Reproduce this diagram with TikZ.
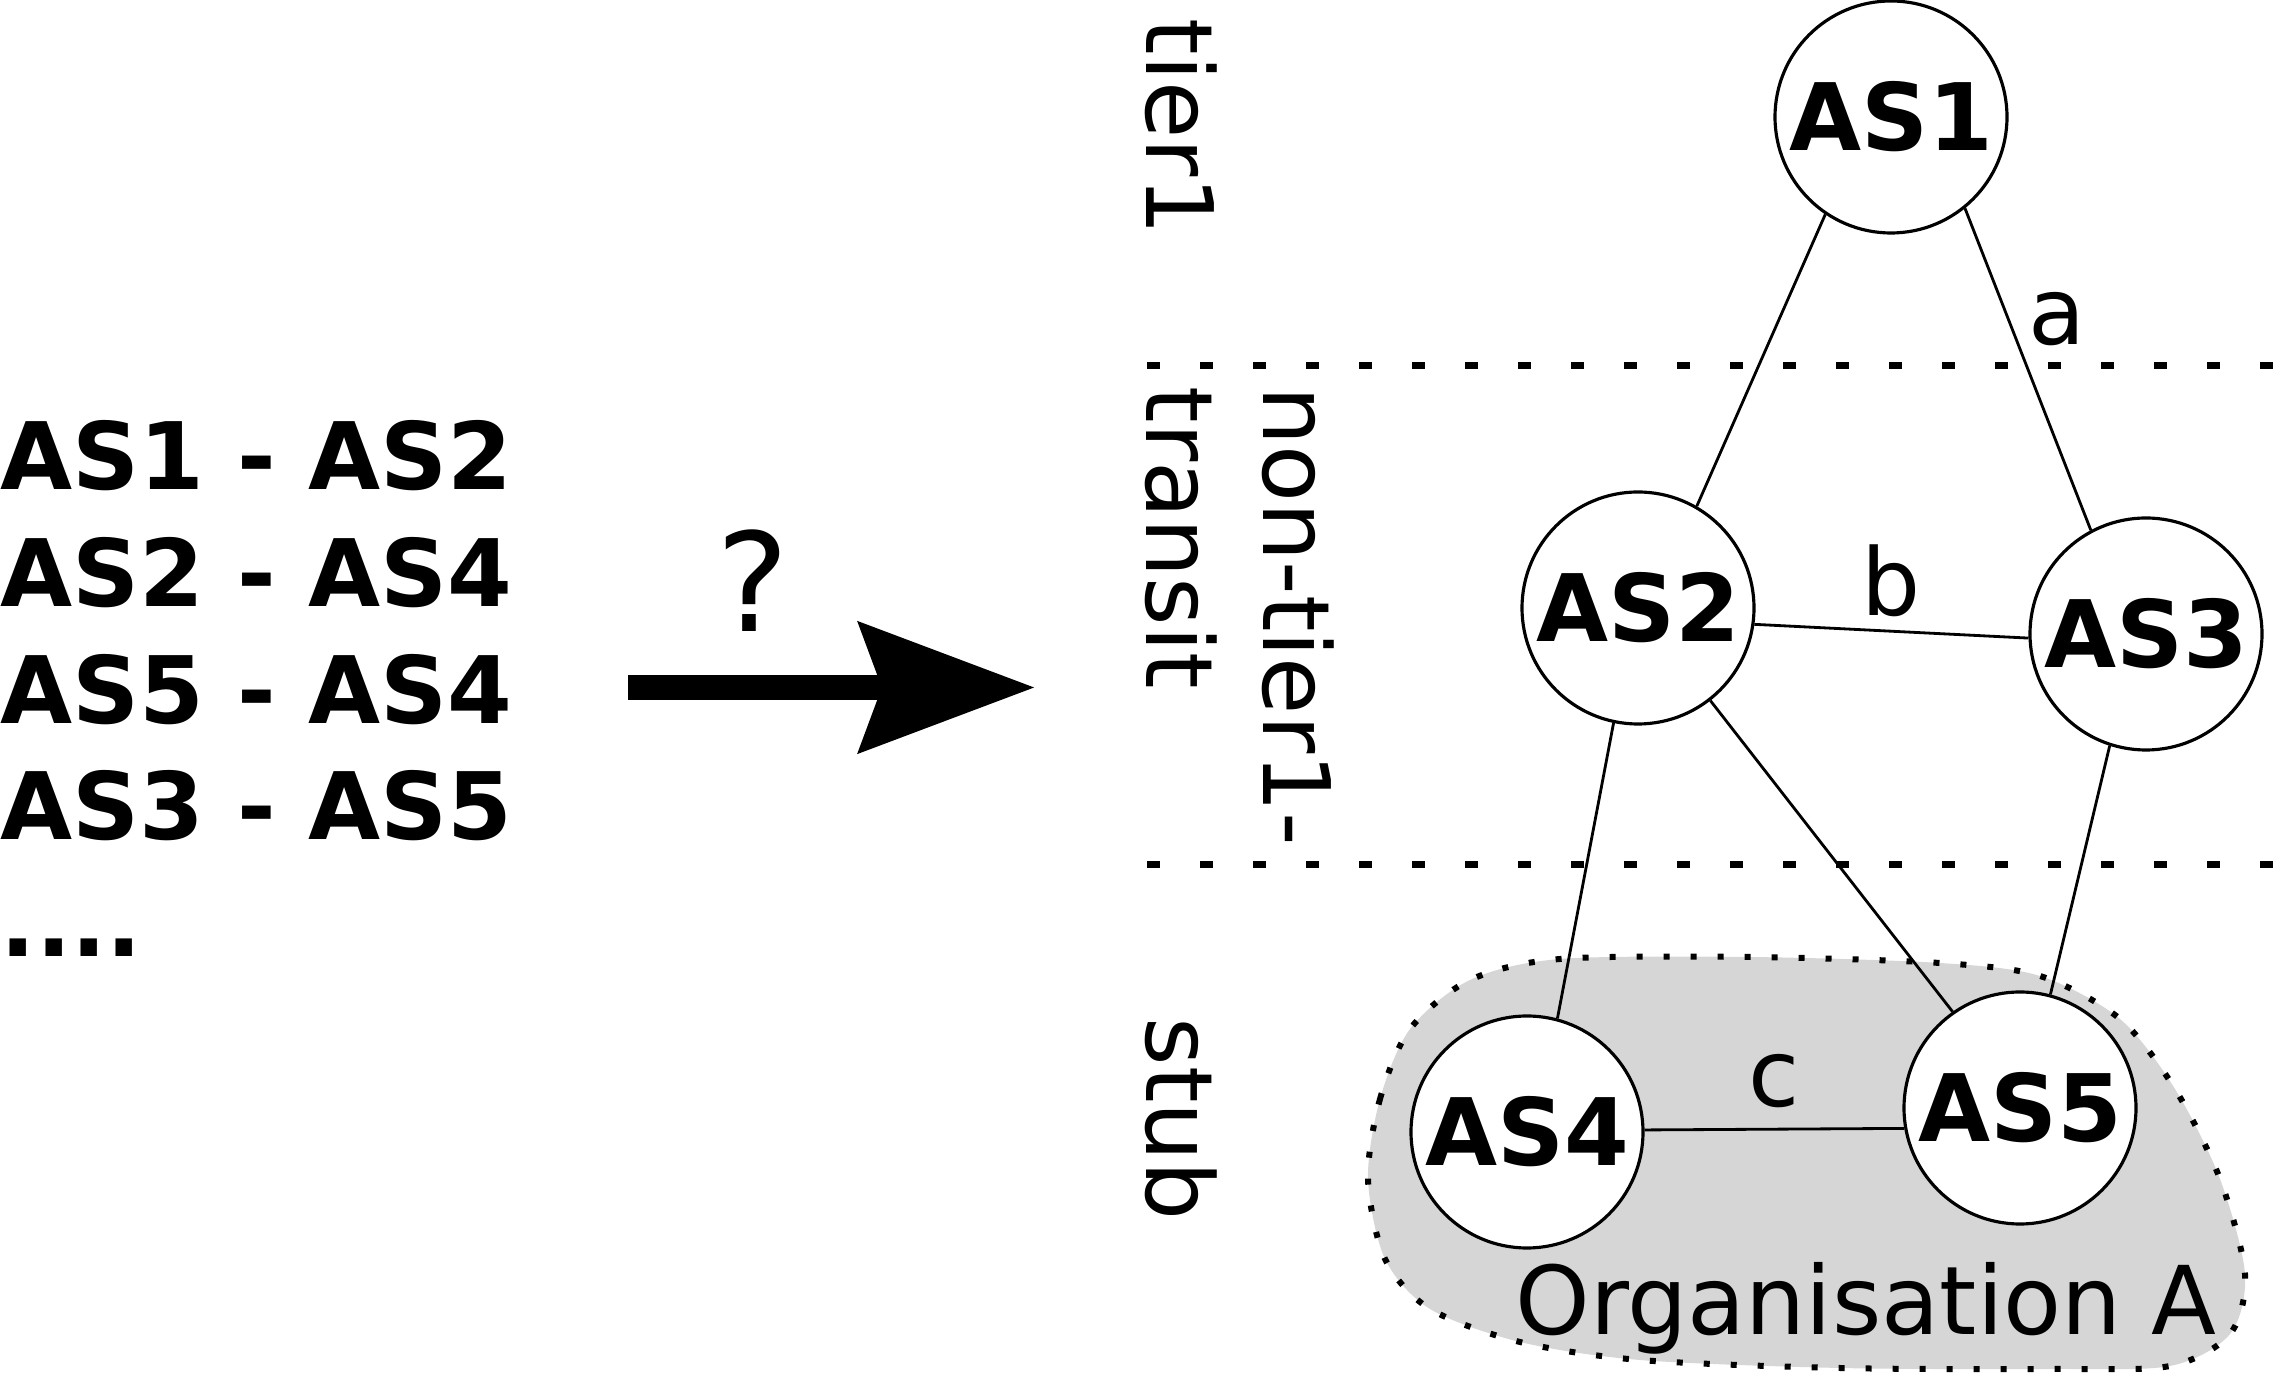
\documentclass[tikz,border=0pt]{standalone}
\usepackage{fontspec}
\setmainfont{DejaVu Sans}
\usetikzlibrary{arrows.meta,positioning}
\definecolor{orggray}{gray}{.84}
\newcommand{\asdiam}{2.32cm}
\newcommand{\bigtext}{\fontsize{26.5}{33.2}\selectfont}
\tikzset{
    asnode/.style={draw, circle, fill=white, line width=0.9pt, minimum size=\asdiam, inner sep=0pt, font=\bigtext\bfseries},
    aslink/.style={line width=0.8pt},
    linklabel/.style={inner sep=0pt, font=\bigtext},
    layerline/.style={line width=0.07cm, dash pattern=on 0.13cm off 0.40cm},
    layerlabel/.style={rotate=-90, anchor=north west, inner sep=0pt, align=left, font=\bigtext},
    orgarea/.style={fill=orggray, line width=0.06cm, dash pattern=on 0.06cm off 0.21cm}
}

\begin{document}
\begin{tikzpicture}
    \useasboundingbox (0,0) rectangle (22.8,13.74);

    % organisation A
    \draw[orgarea] plot[smooth cycle] coordinates {(13.68,1.95) (13.80,2.75) (14.10,3.45) (14.70,3.94) (15.60,4.15) (17.50,4.17) (19.40,4.11) (20.40,3.98) (21.20,3.55) (21.75,2.85) (22.20,1.95) (22.45,1.00) (22.30,0.40) (21.70,0.08) (20.50,0.05) (18.40,0.06) (16.40,0.14) (15.20,0.32) (14.30,0.65) (13.85,1.15)};
    \node[font=\fontsize{27}{32}\selectfont, anchor=base] (orgA) at (18.66,0.39) {Organisation A};

    % layers
    \draw[layerline] (11.47,10.08) -- (22.8,10.08);
    \draw[layerline] (11.47,5.09) -- (22.8,5.09);
    \node[layerlabel] (tier1) at (12.18,13.56) {tier1};
    \node[layerlabel] (transit) at (13.35,9.88) {non-tier1-\\transit};
    \node[layerlabel] (stub) at (12.18,3.57) {stub};

    % ASes
    \node[asnode] (AS1) at (18.91,12.57) {AS1};
    \node[asnode] (AS2) at (16.38,7.66) {AS2};
    \node[asnode] (AS3) at (21.46,7.40) {AS3};
    \node[asnode] (AS4) at (15.27,2.42) {AS4};
    \node[asnode] (AS5) at (20.20,2.66) {AS5};

    \draw[aslink] (AS1.236) -- (AS2.60);
    \draw[aslink] (AS1.309) -- node[linklabel, pos=0.345, right=0.19cm] (linka) {a} (AS3.118);
    \draw[aslink] (AS2.-8) -- node[linklabel, midway, above=0.13cm] (linkb) {b} (AS3.182);
    \draw[aslink] (AS2.258) -- (AS4.75);
    \draw[aslink] (AS2.308) -- (AS5.125);
    \draw[aslink] (AS3.252) -- (AS5.75);
    \draw[aslink] (AS4.1) -- node[linklabel, midway, above=0.2cm] (linkc) {c} (AS5.190);

    % list of links and arrow
    \node[anchor=north west, inner sep=0pt, align=left, font=\bigtext\bfseries] (edges) at (0,9.54) {AS1 - AS2\\AS2 - AS4\\AS5 - AS4\\AS3 - AS5\\....};
    \node[font=\fontsize{39}{46}\selectfont, anchor=base] (question) at (7.53,7.42) {?};
    \coordinate (arrowtail) at (6.28,6.865);
    \coordinate (arrowtip) at (10.35,6.865);
    \draw[line width=0.25cm, -{Stealth[length=1.75cm, width=1.28cm, inset=0.22cm]}] (arrowtail) -- (arrowtip);
\end{tikzpicture}
\end{document}
